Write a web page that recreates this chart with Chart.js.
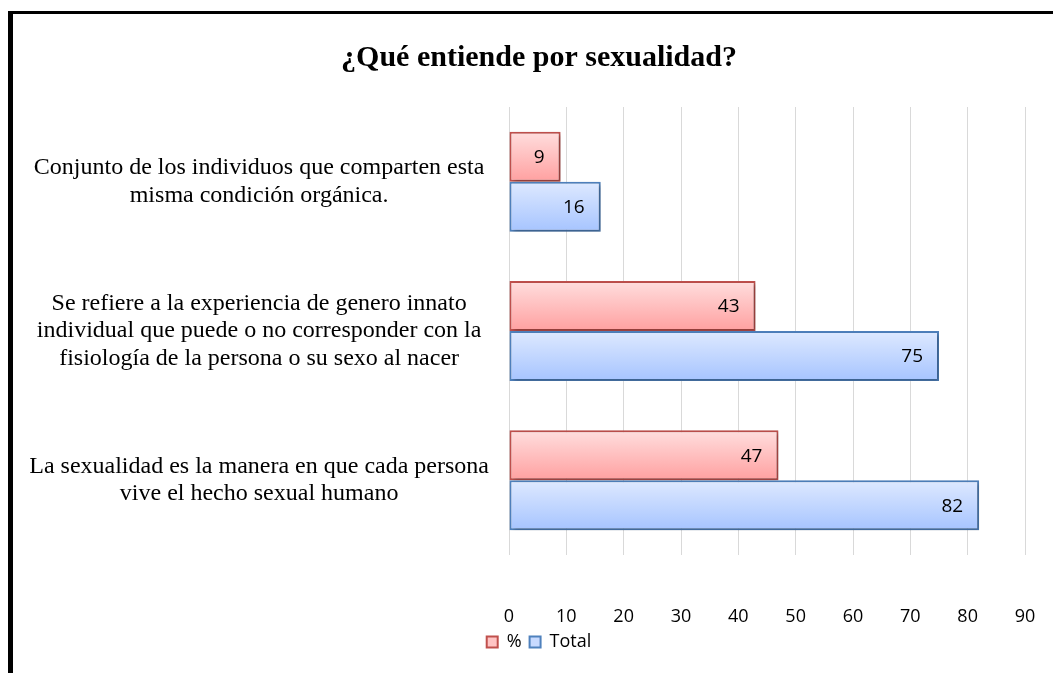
<!DOCTYPE html>
<html>
<head>
<meta charset="utf-8">
<script src="https://cdn.jsdelivr.net/npm/chart.js@4"></script>
<style>
  html, body { margin: 0; background: #fff; overflow: hidden; width: 1053px; height: 673px; }
  #frame { position: absolute; left: 8px; top: 11px; width: 1040px; height: 659px;
           border-left: 5px solid #000; border-top: 3px solid #000; }
  #wrap { position: absolute; left: 13px; top: 14px; width: 1040px; height: 659px; }
</style>
</head>
<body>
<div id="frame"></div>
<div id="wrap"><canvas id="chart"></canvas></div>
<script>
const categories = [
    ['Conjunto de los individuos que comparten esta', 'misma condición orgánica.'],
    ['Se refiere a la experiencia de genero innato', 'individual que puede o no corresponder con la', 'fisiología de la persona o su sexo al nacer'],
    ['La sexualidad es la manera en que cada persona', 'vive el hecho sexual humano']
];
const percentValues = [9, 43, 47];
const totalValues = [16, 75, 82];
const xTicks = [0, 10, 20, 30, 40, 50, 60, 70, 80, 90];

const CAT_PCT = 0.67;

function barGradient(light, dark) {
    return function(context) {
        const chart = context.chart;
        const y = chart.scales && chart.scales.y;
        if (!chart.chartArea || !y || context.type !== 'data') return dark;
        const band = (y.bottom - y.top) / categories.length;
        const c = y.getPixelForValue(context.dataIndex);
        const bw = band * CAT_PCT / 2;
        const t = c - band * CAT_PCT / 2 + context.datasetIndex * bw;
        const g = chart.ctx.createLinearGradient(0, t, 0, t + bw);
        g.addColorStop(0, light);
        g.addColorStop(1, dark);
        return g;
    };
}

const labelPlugin = {
    id: 'barLabels',
    beforeDatasetsDraw(chart) {
        const ctx = chart.ctx;
        ctx.save();
        ctx.shadowColor = 'rgba(0,0,0,0.3)';
        ctx.shadowBlur = 4;
        ctx.shadowOffsetX = 2;
        ctx.shadowOffsetY = 2;
    },
    afterDatasetsDraw(chart) {
        const ctx = chart.ctx;
        ctx.restore();
        ctx.save();
        ctx.font = '19px "Open Sans"';
        ctx.fillStyle = '#000';
        ctx.textAlign = 'right';
        ctx.textBaseline = 'middle';
        chart.data.datasets.forEach((ds, i) => {
            chart.getDatasetMeta(i).data.forEach((bar, j) => {
                ctx.fillText(String(ds.data[j]), bar.x - 16, bar.y + 1);
            });
        });
        ctx.restore();
    }
};

new Chart(document.getElementById('chart'), {
    type: 'bar',
    data: {
        labels: categories,
        datasets: [
            {
                label: '%',
                data: percentValues,
                backgroundColor: barGradient('#FFDEDE', '#FFA0A0'),
                borderColor: '#C0504D',
                borderWidth: 2,
                borderSkipped: false
            },
            {
                label: 'Total',
                data: totalValues,
                backgroundColor: barGradient('#DEE9FF', '#A6C4FF'),
                borderColor: '#4F81BD',
                borderWidth: 2,
                borderSkipped: false
            }
        ]
    },
    options: {
        indexAxis: 'y',
        responsive: true,
        maintainAspectRatio: false,
        animation: false,
        categoryPercentage: CAT_PCT,
        barPercentage: 1,
        layout: { padding: { left: 17, right: 5, top: 0, bottom: 12 } },
        scales: {
            x: {
                min: 0,
                max: 90,
                afterBuildTicks: axis => { axis.ticks = xTicks.map(v => ({ value: v })); },
                afterFit: axis => {
                    axis.height = 70;
                    axis.paddingLeft = 0;
                    axis.paddingRight = 28;
                },
                grid: { color: '#d9d9d9', lineWidth: 1, drawTicks: false },
                border: { display: false },
                ticks: { color: '#000', font: { family: '"Open Sans"', size: 18, lineHeight: 1 }, padding: 53 }
            },
            y: {
                afterFit: axis => { axis.width = 479; },
                grid: { display: false, drawTicks: false },
                border: { display: false },
                ticks: {
                    color: '#000',
                    crossAlign: 'center',
                    padding: 20,
                    font: { family: '"Liberation Serif"', size: 24, lineHeight: 1.15 }
                }
            }
        },
        plugins: {
            title: {
                display: true,
                text: '¿Qué entiende por sexualidad?',
                color: '#000',
                font: { family: '"Liberation Serif"', size: 30, weight: 'bold' },
                padding: { top: 26, bottom: 31 }
            },
            legend: {
                position: 'bottom',
                labels: {
                    color: '#000',
                    font: { family: '"Open Sans"', size: 18 },
                    boxWidth: 11,
                    boxHeight: 11,
                    padding: 8,
                    generateLabels: chart => {
                        const fills = ['#FFC4C4', '#C8DAFF'];
                        return Chart.defaults.plugins.legend.labels.generateLabels(chart).map((l, i) => {
                            l.fillStyle = fills[i];
                            l.lineWidth = 2;
                            return l;
                        });
                    }
                }
            },
            tooltip: { enabled: false }
        }
    },
    plugins: [labelPlugin]
});
</script>
</body>
</html>
